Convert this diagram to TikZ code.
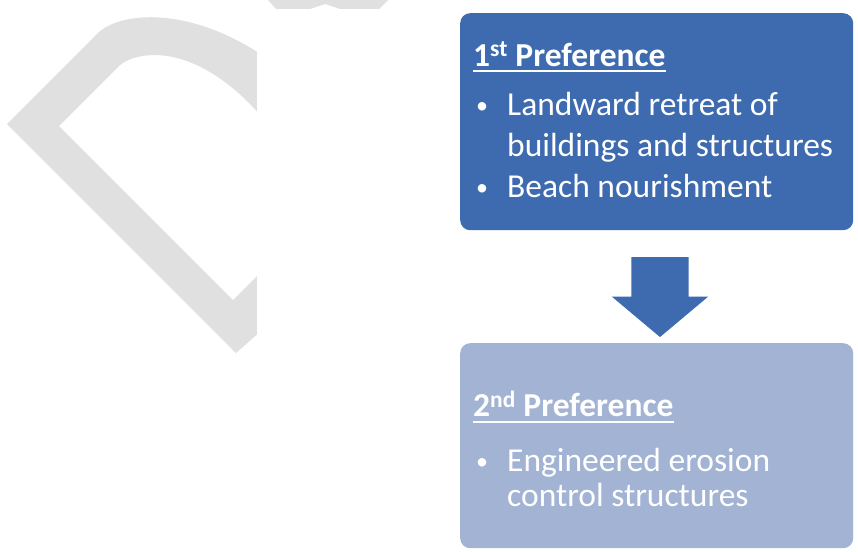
\documentclass[tikz,border=0pt]{standalone}
\usepackage{fontspec}
\setmainfont{Carlito}
\usetikzlibrary{shapes.arrows, positioning}
\definecolor{prefblue}{RGB}{62,107,175}
\definecolor{prefpale}{RGB}{162,179,211}
\newcommand\prefhead[1]{\setbox0\hbox{\bfseries #1}\rlap{\rule[-6pt]{\wd0}{2pt}}\box0}
\newcommand\bulletitem{\makebox[34pt][l]{\hspace{3pt}\raisebox{2pt}{\fontsize{24}{24}\selectfont\textbullet}}}

\begin{document}
\begin{tikzpicture}[x=1pt, y=1pt, font=\fontsize{33.5}{41}\selectfont]
    \tikzstyle{pref box}=[rectangle, rounded corners=10pt, anchor=north west, minimum width=393pt, minimum height=217pt]
    \tikzstyle{first pref}=[pref box, fill=prefblue]
    \tikzstyle{second pref}=[pref box, fill=prefpale, minimum height=205pt]
    \tikzstyle{pref text}=[anchor=north west, inner sep=0pt, text width=380pt, align=flush left, text=white]
    \tikzstyle{down arrow}=[single arrow, fill=prefblue, rotate=-90, inner xsep=0pt, inner ysep=28.5pt, minimum height=80pt, single arrow head extend=19.5pt, single arrow tip angle=100]
    \tikzstyle{watermark}=[fill=black!12]

    \useasboundingbox (0,0) rectangle (858,-551);

    % stamp behind the chart
    \fill[watermark] (236,-353) -- (7,-124) -- (95,-36) .. controls (115,-12) and (185,-4) .. (262,-55)
        -- (262,-117) .. controls (195,-40) and (135,-50) .. (118,-67) -- (59,-126) -- (233,-300)
        -- (262,-271) -- (262,-330) -- cycle;
    \fill[watermark] (268,0) -- (388,0) -- (379,-9) -- (340,-9) -- (325,-4) -- (310,-9) -- (276,-9) -- cycle;
    \fill[white] (257,-12) rectangle (858,-551);

    \node[first pref] (pref1) at (460,-13) {};
    \node[second pref] (pref2) at (460,-343) {};

    \node[pref text] (pref1 text) at ([xshift=13pt, yshift=-29pt]pref1.north west) {%
        \prefhead{1\textsuperscript{st} Preference}\\[8pt]
        \bulletitem Landward retreat of\\
        \hspace*{34pt}buildings and structures\\
        \bulletitem Beach nourishment};

    \node[pref text] (pref2 text) at ([xshift=13pt, yshift=-48pt]pref2.north west) {%
        \prefhead{2\textsuperscript{nd} Preference}\\[14pt]
        \bulletitem Engineered erosion\\[-6pt]
        \hspace*{34pt}control structures};

    \node[down arrow] (step) at (660,-285) {};
\end{tikzpicture}
\end{document}
